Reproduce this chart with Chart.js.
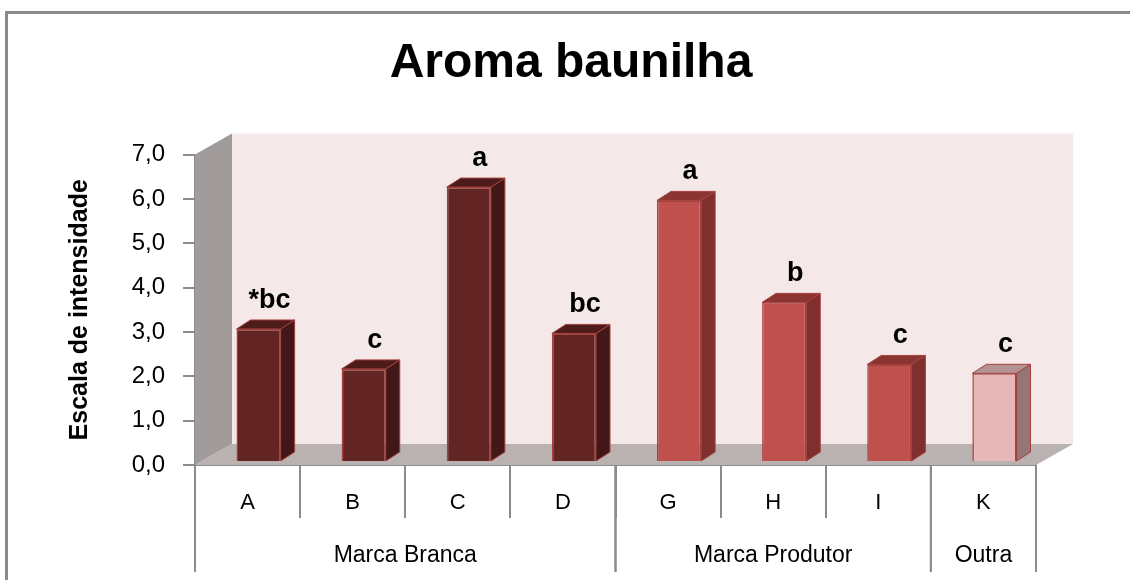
<!DOCTYPE html>
<html>
<head>
<meta charset="utf-8">
<script src="https://cdn.jsdelivr.net/npm/chart.js@4.4.0/dist/chart.umd.min.js"></script>
<style>
  html, body { margin: 0; padding: 0; background: #fff; }
</style>
</head>
<body>
<canvas id="grafico" width="1130" height="580"></canvas>
<script>
// dados
const categorias = ['A', 'B', 'C', 'D', 'G', 'H', 'I', 'K'];
const valores = [3.0, 2.1, 6.2, 2.9, 5.9, 3.6, 2.2, 2.0];
const letras = ['*bc', 'c', 'a', 'bc', 'a', 'b', 'c', 'c'];
const grupos = ['Marca Branca', 'Marca Produtor', 'Outra'];
const tamanhoGrupos = [4, 3, 1];
const ticksY = [0, 1, 2, 3, 4, 5, 6, 7];

// cores por grupo (frente, lado, topo)
const corFrente = ['#632523', '#c0504d', '#e6b9b8'];
const corLado = ['#421717', '#7f2f2d', '#957677'];
const corTopo = ['#4d1b1a', '#8c3432', '#b39393'];
const corBorda = '#a5403d';
const cinza = '#8c8c8c';

const grupoDe = [];
tamanhoGrupos.forEach((n, g) => { for (let i = 0; i < n; i++) grupoDe.push(g); });

const PAREDE = { x: 37, y: -21 };   // profundidade das paredes
const DESLOC = { x: 11, y: -3 };    // deslocamento das barras
const PROF = { x: 14, y: -9 };      // profundidade das barras

function poligono(ctx, pts, fill, stroke) {
    ctx.beginPath();
    ctx.moveTo(pts[0][0], pts[0][1]);
    for (let i = 1; i < pts.length; i++) ctx.lineTo(pts[i][0], pts[i][1]);
    ctx.closePath();
    ctx.fillStyle = fill;
    ctx.fill();
    if (stroke) {
        ctx.strokeStyle = stroke;
        ctx.lineWidth = 1;
        ctx.stroke();
    }
}

const efeito3d = {
    id: 'efeito3d',
    beforeDraw(chart) {
        const ctx = chart.ctx;
        ctx.save();
        ctx.fillStyle = '#fff';
        ctx.fillRect(0, 0, chart.width, chart.height);
        ctx.strokeStyle = '#8a8a8a';
        ctx.lineWidth = 3;
        ctx.beginPath();
        ctx.moveTo(6.5, chart.height);
        ctx.lineTo(6.5, 12.5);
        ctx.lineTo(chart.width, 12.5);
        ctx.stroke();
        ctx.restore();
    },
    beforeDatasetsDraw(chart) {
        const { ctx, chartArea: a } = chart;
        ctx.save();
        // parede do fundo
        ctx.fillStyle = '#f4e8e8';
        ctx.fillRect(a.left + PAREDE.x, a.top + PAREDE.y, a.right - a.left, a.bottom - a.top);
        // parede lateral
        poligono(ctx, [[a.left, a.top], [a.left + PAREDE.x, a.top + PAREDE.y],
            [a.left + PAREDE.x, a.bottom + PAREDE.y], [a.left, a.bottom]], '#a19b9b');
        // chão
        poligono(ctx, [[a.left, a.bottom], [a.left + PAREDE.x, a.bottom + PAREDE.y],
            [a.right + PAREDE.x, a.bottom + PAREDE.y], [a.right, a.bottom]], '#bab1b1');
        ctx.restore();
        ctx.save();
        ctx.translate(DESLOC.x, DESLOC.y);
    },
    afterDatasetsDraw(chart) {
        const ctx = chart.ctx;
        const meta = chart.getDatasetMeta(0);
        meta.data.forEach((bar, i) => {
            const { x, y, base, width } = bar.getProps(['x', 'y', 'base', 'width'], true);
            const l = x - width / 2, r = x + width / 2;
            const g = grupoDe[i];
            poligono(ctx, [[r, y], [r + PROF.x, y + PROF.y], [r + PROF.x, base + PROF.y], [r, base]], corLado[g], corBorda);
            poligono(ctx, [[l, y], [l + PROF.x, y + PROF.y], [r + PROF.x, y + PROF.y], [r, y]], corTopo[g], corBorda);
        });
        ctx.restore();

        // letras de significância
        ctx.save();
        ctx.font = 'bold 27px "Liberation Sans", Arial, sans-serif';
        ctx.fillStyle = '#000';
        ctx.textAlign = 'center';
        ctx.textBaseline = 'alphabetic';
        meta.data.forEach((bar, i) => {
            ctx.fillText(letras[i], bar.x + DESLOC.x + 11, bar.y + DESLOC.y - 21);
        });
        ctx.restore();
    },
    afterDraw(chart) {
        const { ctx, chartArea: a } = chart;
        const xs = chart.scales.x;
        const passo = (xs.right - xs.left) / categorias.length;
        ctx.save();
        ctx.strokeStyle = cinza;
        ctx.lineWidth = 2;
        ctx.font = '23px "Liberation Sans", Arial, sans-serif';
        ctx.fillStyle = '#000';
        ctx.textAlign = 'center';
        let inicio = 0;
        grupos.forEach((nome, k) => {
            const fim = inicio + tamanhoGrupos[k] - 1;
            const esq = xs.getPixelForValue(inicio) - passo / 2;
            const dir = xs.getPixelForValue(fim) + passo / 2;
            ctx.beginPath();
            ctx.moveTo(esq, a.bottom);
            ctx.lineTo(esq, 572);
            ctx.moveTo(dir, a.bottom);
            ctx.lineTo(dir, 572);
            ctx.stroke();
            ctx.fillText(nome, (esq + dir) / 2, 562);
            inicio = fim + 1;
        });
        ctx.restore();
    }
};

const ctx = document.getElementById('grafico').getContext('2d');
new Chart(ctx, {
    type: 'bar',
    data: {
        labels: categorias,
        datasets: [{
            data: valores,
            backgroundColor: grupoDe.map(g => corFrente[g]),
            borderColor: corBorda,
            borderWidth: 1.5,
            barPercentage: 0.42,
            categoryPercentage: 1,
            clip: false
        }]
    },
    options: {
        responsive: false,
        animation: false,
        devicePixelRatio: 1,
        layout: { padding: { top: 12, left: 12, right: 0, bottom: 0 } },
        plugins: {
            legend: { display: false },
            tooltip: { enabled: false },
            title: {
                display: true,
                text: 'Aroma baunilha',
                color: '#000',
                font: { family: '"Liberation Sans", Arial, sans-serif', size: 48, weight: 'bold' },
                padding: { top: 23, bottom: 62 }
            }
        },
        scales: {
            x: {
                grid: { drawOnChartArea: false, tickLength: 53, color: cinza, lineWidth: 2 },
                border: { color: cinza, width: 2 },
                ticks: { color: '#000', padding: -28, font: { family: '"Liberation Sans", Arial, sans-serif', size: 22 } },
                afterFit(s) { s.height = 115; }
            },
            y: {
                min: ticksY[0],
                max: ticksY[ticksY.length - 1],
                afterBuildTicks(s) { s.ticks = ticksY.map(v => ({ value: v })); },
                grid: { drawOnChartArea: false, tickLength: 12, color: cinza, lineWidth: 2 },
                border: { color: cinza, width: 2 },
                ticks: {
                    color: '#000',
                    padding: 18,
                    font: { family: '"Liberation Sans", Arial, sans-serif', size: 24 },
                    callback: v => v.toFixed(1).replace('.', ',')
                },
                title: {
                    display: true,
                    text: 'Escala de intensidade',
                    color: '#000',
                    font: { family: '"Liberation Sans", Arial, sans-serif', size: 25, weight: 'bold' },
                    padding: { top: 53, bottom: 0 }
                },
                afterFit(s) { s.width = 183; }
            },
            yDir: {
                position: 'right',
                grid: { display: false },
                border: { display: false },
                ticks: { display: false },
                afterFit(s) { s.width = 94; }
            }
        }
    },
    plugins: [efeito3d]
});
</script>
</body>
</html>
